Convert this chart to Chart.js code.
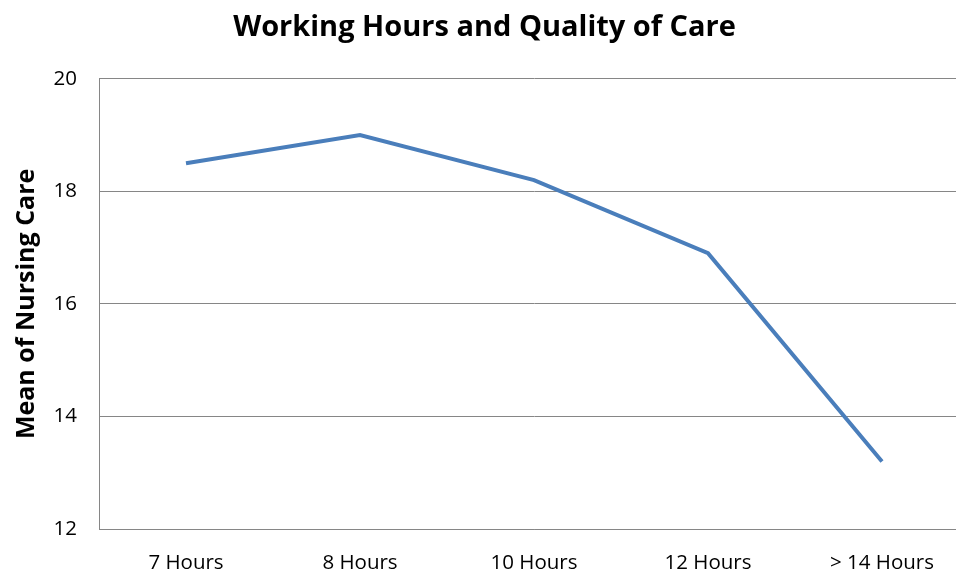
<!DOCTYPE html>
<html>
<head>
<meta charset="utf-8">
<script src="https://cdn.jsdelivr.net/npm/chart.js@4/dist/chart.umd.min.js"></script>
<style>
  html, body { margin: 0; padding: 0; background: #fff; overflow: hidden; width: 956px; height: 574px; }
  #wrap { position: absolute; left: 0; top: 0; width: 972px; height: 574px; }
</style>
</head>
<body>
<div id="wrap"><canvas id="c" width="972" height="574"></canvas></div>
<script>
const categories = ["7 Hours", "8 Hours", "10 Hours", "12 Hours", "> 14 Hours"];
const meanNursingCare = [18.5, 19.0, 18.2, 16.9, 13.2];
const yTicks = [12, 14, 16, 18, 20];

const FONT = "'Open Sans', Lato, sans-serif";

new Chart(document.getElementById('c'), {
  type: 'line',
  data: {
    labels: categories,
    datasets: [{
      label: 'Mean of Nursing Care',
      data: meanNursingCare,
      borderColor: '#4a7ebb',
      borderWidth: 4,
      pointRadius: 0,
      tension: 0,
      fill: false
    }]
  },
  options: {
    responsive: false,
    animation: false,
    layout: { padding: { left: 0, right: 3, top: 0, bottom: 0 } },
    plugins: {
      legend: { display: false },
      tooltip: { enabled: false },
      title: {
        display: true,
        text: 'Working Hours and Quality of Care',
        color: '#000',
        font: { family: FONT, size: 29, weight: 'bold', lineHeight: 1.2 },
        padding: { top: 10, bottom: 34 }
      }
    },
    scales: {
      x: {
        offset: true,
        grid: { display: false, drawTicks: false, tickLength: 0 },
        border: { display: true, color: '#868686', width: 1 },
        ticks: { color: '#000', font: { family: FONT, size: 20.5 }, padding: 22, maxRotation: 0 },
        afterFit: (s) => { s.height = 45; }
      },
      y: {
        min: 12, max: 20,
        afterBuildTicks: (s) => { s.ticks = yTicks.map(v => ({ value: v })); },
        grid: { color: '#868686', lineWidth: 1, drawTicks: false, tickLength: 0 },
        border: { display: true, color: '#868686', width: 1 },
        ticks: { color: '#000', font: { family: FONT, size: 20.5 }, padding: 22 },
        title: {
          display: true,
          text: 'Mean of Nursing Care',
          color: '#000',
          font: { family: FONT, size: 25, weight: 'bold', lineHeight: 1.2 },
          padding: { top: 12, bottom: 0 }
        },
        afterFit: (s) => { s.width = 99; }
      }
    }
  }
});
</script>
</body>
</html>
